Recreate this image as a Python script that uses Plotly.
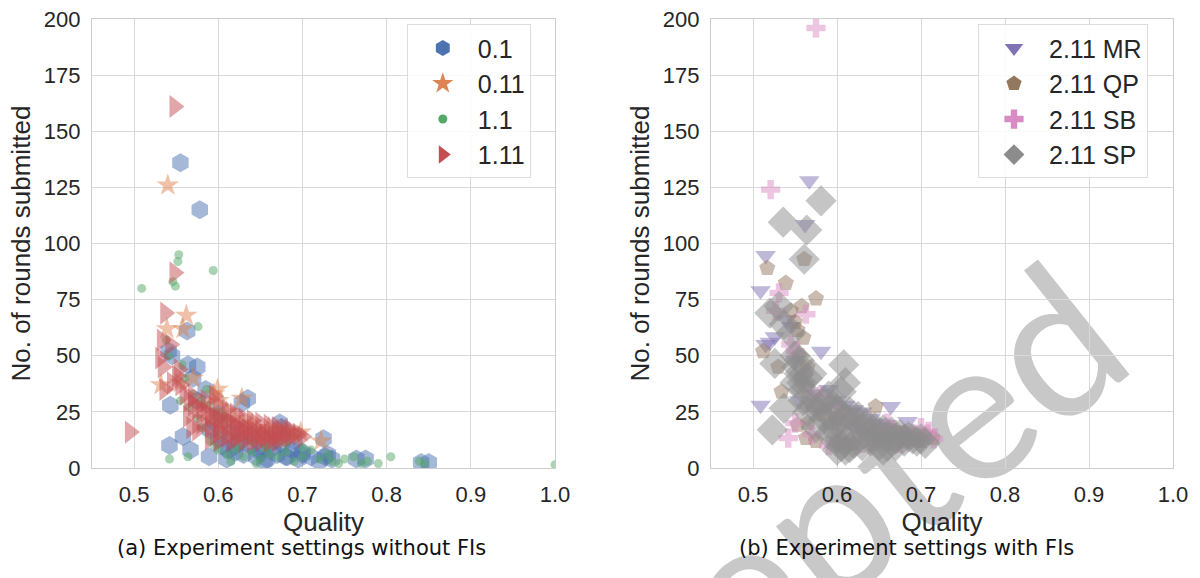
import plotly.graph_objects as go

# ---------------- data: left panel (without FIs) ----------------
s01_x = [0.555, 0.578, 0.563, 0.541, 0.545, 0.564, 0.575, 0.543, 0.542, 0.558, 0.567, 0.589, 0.61, 0.628,
         0.655, 0.682, 0.725, 0.727, 0.764, 0.775, 0.841, 0.85, 0.57, 0.585, 0.595, 0.60, 0.605, 0.612, 0.62,
         0.625, 0.63, 0.638, 0.645, 0.65, 0.658, 0.665, 0.67, 0.675, 0.68, 0.688, 0.695, 0.70, 0.71, 0.72,
         0.735, 0.60, 0.615, 0.64, 0.66, 0.69, 0.73, 0.575, 0.59, 0.62, 0.65, 0.675, 0.70, 0.635, 0.673]
s01_y = [136, 115, 61, 52, 50, 46, 45, 28, 10, 14, 8, 5, 4, 29,
         3, 5, 13, 5, 4, 4, 2.5, 2.5, 40, 35, 20, 13, 10, 8, 7,
         12, 6, 10, 5, 8, 4, 9, 6, 18, 5, 8, 4, 7, 5, 3,
         4, 24, 16, 14, 11, 12, 6, 30, 17, 10, 7, 11, 6, 31, 20]

s011_x = [0.540, 0.562, 0.539, 0.558, 0.532, 0.599, 0.595, 0.628, 0.698, 0.722, 0.58, 0.60, 0.61, 0.62,
          0.64, 0.66, 0.68, 0.69, 0.65, 0.60, 0.57, 0.555, 0.59, 0.63, 0.67]
s011_y = [126, 68, 62, 62, 37, 35, 33, 31, 16, 12, 28, 30, 25, 22,
          20, 18, 16, 15, 15, 20, 40, 38, 22, 19, 17]

s11_x = [0.509, 0.553, 0.552, 0.594, 0.546, 0.549, 0.576, 0.538, 0.541, 0.557, 0.586, 0.542, 0.564, 1.0,
         0.805, 0.79, 0.777, 0.761, 0.743, 0.839, 0.56, 0.57, 0.58, 0.59, 0.60, 0.61, 0.60, 0.61, 0.62,
         0.63, 0.64, 0.65, 0.66, 0.67, 0.68, 0.69, 0.70, 0.71, 0.72, 0.73, 0.735, 0.75, 0.77, 0.62, 0.64,
         0.66, 0.68, 0.70, 0.60, 0.59, 0.58, 0.575, 0.615, 0.645, 0.625, 0.655, 0.595, 0.565, 0.555, 0.845]
s11_y = [80, 95, 92, 88, 83, 81, 63, 57, 50, 46, 35, 4, 5, 1.5,
         5, 2, 3, 5, 2, 3, 40, 33, 30, 28, 25, 22, 8, 6, 8,
         5, 7, 4, 6, 5, 7, 3, 5, 8, 4, 6, 3, 4, 2, 14, 12,
         10, 11, 9, 15, 12, 18, 22, 3, 2, 10, 9, 10, 27, 30, 2]

s111_x = [0.495, 0.548, 0.548, 0.537, 0.533, 0.531, 0.534, 0.551, 0.545, 0.536, 0.555, 0.56, 0.565, 0.57,
          0.575, 0.58, 0.585, 0.59, 0.595, 0.60, 0.605, 0.61, 0.615, 0.62, 0.625, 0.63, 0.635, 0.64, 0.645,
          0.65, 0.655, 0.66, 0.665, 0.67, 0.675, 0.68, 0.685, 0.69, 0.695, 0.58, 0.59, 0.60, 0.61, 0.62,
          0.63, 0.64, 0.65, 0.66, 0.67, 0.60, 0.61, 0.62, 0.63, 0.64, 0.65, 0.66, 0.67, 0.68, 0.57, 0.585,
          0.595, 0.564, 0.568, 0.575, 0.59, 0.60, 0.615, 0.625, 0.635, 0.645, 0.655, 0.665, 0.675, 0.685,
          0.70, 0.60, 0.61, 0.62, 0.63, 0.543, 0.553]
s111_y = [16, 161, 87, 69, 57, 49, 45, 41, 38, 35, 37, 33, 30, 28,
          27, 26, 25, 24, 23, 22, 21, 21, 20, 19, 18, 18, 17, 17, 16,
          16, 15, 15, 15, 15, 14, 14, 14, 15, 15, 20, 18, 16, 14, 13,
          12, 12, 12, 12, 12, 28, 26, 24, 22, 21, 20, 19, 18, 17, 32, 30,
          32, 23, 18, 17, 13, 12, 12, 15, 14, 13, 14, 13, 16, 17,
          14, 18, 17, 16, 16, 55, 44]

# ---------------- data: right panel (with FIs) ----------------
mr_x = [0.567, 0.562, 0.515, 0.509, 0.526, 0.515, 0.520, 0.581, 0.509, 0.664, 0.684, 0.540, 0.545, 0.550,
        0.560, 0.575, 0.590, 0.600, 0.610, 0.620, 0.630, 0.640, 0.650, 0.660, 0.670, 0.680, 0.690, 0.700,
        0.600, 0.620, 0.640, 0.580, 0.555]
mr_y = [128, 108.5, 94.7, 79, 58.5, 55, 56, 52, 28, 27.4, 20.7, 66, 63, 48,
        40, 33, 35, 30, 28, 26, 25, 22, 20, 18, 17, 15, 14, 13,
        20, 18, 16, 25, 30]

qp_x = [0.517, 0.561, 0.539, 0.575, 0.558, 0.553, 0.512, 0.534, 0.553, 0.563, 0.646, 0.714, 0.545, 0.550,
        0.560, 0.555, 0.565, 0.530, 0.570, 0.580, 0.590, 0.600, 0.610, 0.620, 0.630, 0.640, 0.650, 0.660,
        0.670, 0.680, 0.690, 0.700, 0.565, 0.575, 0.600, 0.620, 0.705]
qp_y = [89, 93, 82.4, 75.5, 72, 61.4, 52, 34, 19.2, 13.3, 27.4, 13.3, 70, 65,
        58, 50, 45, 45, 28, 24, 20, 22, 25, 20, 17, 15, 14, 13,
        14, 16, 13, 12, 20, 12, 12, 11, 15]

sb_x = [0.575, 0.521, 0.531, 0.563, 0.542, 0.709, 0.527, 0.545, 0.550, 0.560, 0.570, 0.580, 0.590, 0.600,
        0.610, 0.620, 0.630, 0.640, 0.650, 0.660, 0.665, 0.670, 0.680, 0.690, 0.700, 0.715, 0.590, 0.600,
        0.610, 0.570, 0.550, 0.630, 0.655, 0.675]
sb_y = [196, 124, 78, 68.5, 13.3, 16.3, 70, 55, 52, 38, 33, 32, 28, 24,
        22, 20, 18, 17, 15, 20, 17, 15, 13, 14, 18, 13, 10, 11,
        12, 15, 20, 11, 12, 11]

sp_x = [0.581, 0.536, 0.564, 0.561, 0.520, 0.531, 0.537, 0.526, 0.608, 0.537, 0.523, 0.605, 0.660, 0.545,
        0.550, 0.552, 0.555, 0.558, 0.560, 0.565, 0.570, 0.555, 0.550, 0.560, 0.570, 0.580, 0.585, 0.590,
        0.595, 0.600, 0.605, 0.610, 0.600, 0.610, 0.615, 0.620, 0.625, 0.630, 0.635, 0.640, 0.645, 0.650,
        0.655, 0.660, 0.665, 0.670, 0.675, 0.680, 0.685, 0.690, 0.695, 0.700, 0.705, 0.590, 0.600, 0.610,
        0.620, 0.630, 0.640, 0.650, 0.575, 0.585, 0.595, 0.565, 0.615, 0.670, 0.600, 0.610, 0.655]
sp_y = [119, 109.5, 106, 93, 69, 72, 64, 46.6, 46, 26.6, 17, 9.6, 9.6, 60,
        50, 45, 42, 38, 35, 40, 42, 48, 38, 30, 28, 27, 30, 32,
        28, 26, 34, 38, 20, 22, 25, 20, 23, 18, 20, 16, 18, 15,
        17, 14, 16, 13, 15, 12, 14, 13, 12, 13, 11, 15, 13, 12,
        11, 10, 12, 10, 18, 22, 18, 25, 9, 10, 8, 8, 8]

x_ticks = [0.5, 0.6, 0.7, 0.8, 0.9, 1.0]
x_tick_text = ["0.5", "0.6", "0.7", "0.8", "0.9", "1.0"]
y_ticks = [0, 25, 50, 75, 100, 125, 150, 175, 200]

left_series = [
    ("0.1", s01_x, s01_y, "#4C72B0", "hexagon", 19),
    ("0.11", s011_x, s011_y, "#DD8452", "star", 17),
    ("1.1", s11_x, s11_y, "#55A868", "circle", 9),
    ("1.11", s111_x, s111_y, "#C44E52", "triangle-right", 20),
]
right_series = [
    ("2.11 MR", mr_x, mr_y, "#8172B3", "triangle-down", 18),
    ("2.11 QP", qp_x, qp_y, "#937860", "pentagon", 17),
    ("2.11 SB", sb_x, sb_y, "#DA8BC3", "cross", 16),
    ("2.11 SP", sp_x, sp_y, "#8C8C8C", "diamond", 24),
]

fig = go.Figure()

def add_panel(series, xa, ya, legend_name):
    for name, xs, ys, col, sym, size in series:
        fig.add_trace(go.Scatter(
            x=xs, y=ys, mode="markers", xaxis=xa, yaxis=ya, showlegend=False,
            marker=dict(symbol=sym, size=size, color=col, opacity=0.5, line=dict(width=0)),
            hoverinfo="x+y", name=name))
    for name, xs, ys, col, sym, size in series:
        fig.add_trace(go.Scatter(
            x=[None], y=[None], mode="markers", xaxis=xa, yaxis=ya, name=name,
            legend=legend_name, legendgroup=name,
            marker=dict(symbol=sym, size=min(size, 18), color=col, line=dict(width=0))))

add_panel(left_series, "x", "y", "legend")
add_panel(right_series, "x2", "y2", "legend2")

tick_font = dict(family="Liberation Sans, Arial, sans-serif", size=22, color="#262626")
title_font = dict(family="Liberation Sans, Arial, sans-serif", size=26, color="#262626")
grid_col = "#d9d9d9"

def xaxis(domain, anchor):
    return dict(domain=domain, anchor=anchor, range=[0.45, 1.0], tickvals=x_ticks, ticktext=x_tick_text,
                showgrid=True, gridcolor=grid_col, gridwidth=1, zeroline=False, automargin=False,
                showline=True, linecolor="#cccccc", linewidth=1.3, mirror=True,
                ticks="outside", ticklen=6, tickcolor="rgba(0,0,0,0)", tickfont=tick_font,
                title=dict(text="Quality", font=title_font, standoff=2))

def yaxis(anchor):
    return dict(domain=[0.1903, 0.9671], anchor=anchor, range=[0, 200], tickvals=y_ticks,
                showgrid=True, gridcolor=grid_col, gridwidth=1, zeroline=False, automargin=False,
                showline=True, linecolor="#cccccc", linewidth=1.3, mirror=True,
                ticks="outside", ticklen=6, tickcolor="rgba(0,0,0,0)", tickfont=tick_font,
                title=dict(text="No. of rounds submitted", font=title_font, standoff=5))

legend_common = dict(font=dict(family="Liberation Sans, Arial, sans-serif", size=25, color="#262626"),
                     bgcolor="rgba(255,255,255,0.85)", bordercolor="#dddddd", borderwidth=1,
                     xanchor="left", yanchor="top", itemwidth=60, tracegroupgap=0,
                     traceorder="grouped")

fig.update_layout(
    width=1200, height=578, margin=dict(l=0, r=0, t=0, b=0, autoexpand=False),
    paper_bgcolor="white", plot_bgcolor="rgba(0,0,0,0)",
    xaxis=xaxis([0.0767, 0.4625], "y"), yaxis=yaxis("x"),
    xaxis2=xaxis([0.5925, 0.9775], "y2"), yaxis2=yaxis("x2"),
    legend=dict(x=0.339, y=0.958, **legend_common),
    legend2=dict(x=0.815, y=0.958, **legend_common),
    shapes=[dict(type="rect", xref="paper", yref="paper", x0=0.638, x1=0.642, y0=0.0286, y1=0.0336,
                 line=dict(width=0), fillcolor="rgba(0,0,0,0)", layer="below",
                 label=dict(text="Accepted", textangle=-38.5, textposition="middle center",
                            font=dict(family="Lato, sans-serif", size=200, color="#c8c8c8")))],
    annotations=[
        dict(text="(a) Experiment settings without FIs", xref="paper", yref="paper", x=0.251, y=0.052,
             xanchor="center", yanchor="middle", showarrow=False,
             font=dict(family="DejaVu Sans, sans-serif", size=21, color="#111111")),
        dict(text="(b) Experiment settings with FIs", xref="paper", yref="paper", x=0.755, y=0.052,
             xanchor="center", yanchor="middle", showarrow=False,
             font=dict(family="DejaVu Sans, sans-serif", size=21, color="#111111")),
    ],
)

fig.write_html("out.html")
